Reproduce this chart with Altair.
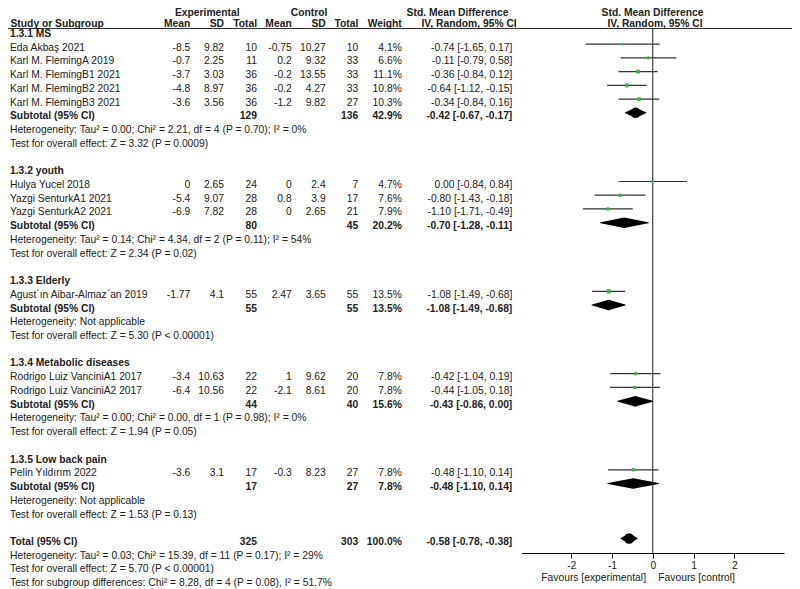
import altair as alt
import pandas as pd

# ---------------- data ----------------
study_names = ["Eda Akbaş 2021", "Karl M. FlemingA 2019", "Karl M. FlemingB1 2021",
               "Karl M. FlemingB2 2021", "Karl M. FlemingB3 2021", "Hulya Yucel 2018",
               "Yazgi SenturkA1 2021", "Yazgi SenturkA2 2021", "Agust´ın Aibar-Almaz´an 2019",
               "Rodrigo Luiz VanciniA1 2017", "Rodrigo Luiz VanciniA2 2017", "Pelin Yıldırım 2022"]
study_group = [0, 0, 0, 0, 0, 1, 1, 1, 2, 3, 3, 4]
exp_mean = [-8.5, -0.7, -3.7, -4.8, -3.6, 0, -5.4, -6.9, -1.77, -3.4, -6.4, -3.6]
exp_sd = [9.82, 2.25, 3.03, 8.97, 3.56, 2.65, 9.07, 7.82, 4.1, 10.63, 10.56, 3.1]
exp_n = [10, 11, 36, 36, 36, 24, 28, 28, 55, 22, 22, 17]
ctl_mean = [-0.75, 0.2, -0.2, -0.2, -1.2, 0, 0.8, 0, 2.47, 1, -2.1, -0.3]
ctl_sd = [10.27, 9.32, 13.55, 4.27, 9.82, 2.4, 3.9, 2.65, 3.65, 9.62, 8.61, 8.23]
ctl_n = [10, 33, 33, 33, 27, 7, 17, 21, 55, 20, 20, 27]
weight = [4.1, 6.6, 11.1, 10.8, 10.3, 4.7, 7.6, 7.9, 13.5, 7.8, 7.8, 7.8]
smd = [-0.74, -0.11, -0.36, -0.64, -0.34, 0.00, -0.80, -1.10, -1.08, -0.42, -0.44, -0.48]
ci_lo = [-1.65, -0.79, -0.84, -1.12, -0.84, -0.84, -1.43, -1.71, -1.49, -1.04, -1.05, -1.10]
ci_hi = [0.17, 0.58, 0.12, -0.15, 0.16, 0.84, -0.18, -0.49, -0.68, 0.19, 0.18, 0.14]

group_titles = ["1.3.1 MS", "1.3.2 youth", "1.3.3 Elderly", "1.3.4 Metabolic diseases", "1.3.5 Low back pain"]
sub_exp_n = [129, 80, 55, 44, 17]
sub_ctl_n = [136, 45, 55, 40, 27]
sub_weight = [42.9, 20.2, 13.5, 15.6, 7.8]
sub_smd = [-0.42, -0.70, -1.08, -0.43, -0.48]
sub_lo = [-0.67, -1.28, -1.49, -0.86, -1.10]
sub_hi = [-0.17, -0.11, -0.68, 0.00, 0.14]
sub_het = ["Heterogeneity: Tau² = 0.00; Chi² = 2.21, df = 4 (P = 0.70); I² = 0%",
           "Heterogeneity: Tau² = 0.14; Chi² = 4.34, df = 2 (P = 0.11); I² = 54%",
           "Heterogeneity: Not applicable",
           "Heterogeneity: Tau² = 0.00; Chi² = 0.00, df = 1 (P = 0.98); I² = 0%",
           "Heterogeneity: Not applicable"]
sub_test = ["Test for overall effect: Z = 3.32 (P = 0.0009)",
            "Test for overall effect: Z = 2.34 (P = 0.02)",
            "Test for overall effect: Z = 5.30 (P < 0.00001)",
            "Test for overall effect: Z = 1.94 (P = 0.05)",
            "Test for overall effect: Z = 1.53 (P = 0.13)"]

total_exp_n = 325
total_ctl_n = 303
total_weight = 100.0
total_smd = -0.58
total_lo = -0.78
total_hi = -0.38
total_notes = ["Heterogeneity: Tau² = 0.03; Chi² = 15.39, df = 11 (P = 0.17); I² = 29%",
               "Test for overall effect: Z = 5.70 (P < 0.00001)",
               "Test for subgroup differences: Chi² = 8.28, df = 4 (P = 0.08), I² = 51.7%"]

axis_ticks = [-2, -1, 0, 1, 2]

# ---------------- layout constants ----------------
FONT = "Liberation Sans"
FS = 10.3
TXT = "#222222"
LINE = "#333333"
GREEN = "#3cb44b"
DIAMOND_PX = 10.5
H = 545
W = 784
TEXT_DY = 3.5

def num(v):
    return f"{v:g}"

def ci_str(e, lo, hi):
    return f"{e:.2f} [{lo:.2f}, {hi:.2f}]"

# ---------------- build table ----------------
cells = []
study_rows = []
diamonds = []

def add(row, col, text, bold=False):
    cells.append({"row": row, "col": col, "text": text, "bold": bold})

def add_diamond(gid, row, est, lo, hi):
    for k, (xv, s) in enumerate(zip([lo, est, hi], [0, 1, 0])):
        diamonds.append({"gid": gid, "row": row, "xv": xv, "peak": s, "ord": k})

row = 2
for g, title in enumerate(group_titles):
    add(row, "name", title, True)
    row += 1
    for i, name in enumerate(study_names):
        if study_group[i] != g:
            continue
        add(row, "name", name)
        add(row, "em", num(exp_mean[i]))
        add(row, "es", num(exp_sd[i]))
        add(row, "en", num(exp_n[i]))
        add(row, "cm", num(ctl_mean[i]))
        add(row, "cs", num(ctl_sd[i]))
        add(row, "cn", num(ctl_n[i]))
        add(row, "w", f"{weight[i]:.1f}%")
        add(row, "ci", ci_str(smd[i], ci_lo[i], ci_hi[i]))
        study_rows.append({"row": row, "smd": smd[i], "lo": ci_lo[i], "hi": ci_hi[i], "weight": weight[i]})
        row += 1
    add(row, "name", "Subtotal (95% CI)", True)
    add(row, "en", num(sub_exp_n[g]), True)
    add(row, "cn", num(sub_ctl_n[g]), True)
    add(row, "w", f"{sub_weight[g]:.1f}%", True)
    add(row, "ci", ci_str(sub_smd[g], sub_lo[g], sub_hi[g]), True)
    add_diamond(g, row, sub_smd[g], sub_lo[g], sub_hi[g])
    row += 1
    add(row, "name", sub_het[g])
    row += 1
    add(row, "name", sub_test[g])
    row += 2

add(row, "name", "Total (95% CI)", True)
add(row, "en", num(total_exp_n), True)
add(row, "cn", num(total_ctl_n), True)
add(row, "w", f"{total_weight:.1f}%", True)
add(row, "ci", ci_str(total_smd, total_lo, total_hi), True)
add_diamond(9, row, total_smd, total_lo, total_hi)
row += 1
for note in total_notes:
    add(row, "name", note)
    row += 1

cells_df = pd.DataFrame(cells)
study_df = pd.DataFrame(study_rows)
diamond_df = pd.DataFrame(diamonds)

columns = [("name", 2.0, "left"), ("em", 182.3, "right"), ("es", 216, "right"), ("en", 249, "right"),
           ("cm", 283.7, "right"), ("cs", 317.7, "right"), ("cn", 350.3, "right"),
           ("w", 393.8, "right"), ("ci", 504.3, "right")]

yscale = alt.Scale(domain=[0.3642, 40.058], reverse=True, nice=False, zero=False)
xscale = alt.Scale(domain=[-3.22, 3.22], range=[513.5, 776], nice=False, zero=False)
base_y = alt.Y("row:Q", scale=yscale, axis=None)

layers = []

one = pd.DataFrame({"a": [0]})
layers.append(alt.Chart(one).mark_rule(color=LINE, strokeWidth=1.1).encode(
    x=alt.value(0), x2=alt.value(W), y=alt.value(20.5)))
layers.append(alt.Chart(one).mark_rule(color=LINE, strokeWidth=1.1).encode(
    x=alt.X("z:Q", scale=xscale, title=None,
            axis=alt.Axis(values=axis_ticks, grid=False, tickSize=5, labelFontSize=FS, labelFont=FONT,
                          labelColor=TXT, domainColor="#000000", tickColor="#000000", labelPadding=2,
                          domainWidth=1, tickWidth=1, labelFlush=False,
                          labelExpr="'' + datum.value")),
    y=alt.value(20.5), y2=alt.value(H)).transform_calculate(z="0"))

for col, xpx, align in columns:
    for bold in (False, True):
        layers.append(alt.Chart(cells_df).transform_filter(
            (alt.datum.col == col) & (alt.datum.bold == bold)
        ).mark_text(align=align, baseline="middle", dy=TEXT_DY, font=FONT, fontSize=FS,
                    fontWeight="bold" if bold else "normal", color=TXT).encode(
            x=alt.value(xpx), y=base_y, text="text:N"))

header1 = [("Experimental", 199.3, "center"), ("Control", 301, "center"),
           ("Std. Mean Difference", 449.5, "center"), ("Std. Mean Difference", 644.5, "center")]
header2 = [("Study or Subgroup", 2.5, "left"), ("Mean", 182.3, "right"), ("SD", 216, "right"),
           ("Total", 249, "right"), ("Mean", 283.7, "right"), ("SD", 317.7, "right"),
           ("Total", 350.3, "right"), ("Weight", 393.8, "right"), ("IV, Random, 95% CI", 508.7, "right"),
           ("IV, Random, 95% CI", 647, "center")]
for txt, xpx, align in header1:
    layers.append(alt.Chart(pd.DataFrame({"t": [txt]})).mark_text(
        align=align, baseline="middle", font=FONT, fontSize=FS, fontWeight="bold", color=TXT).encode(
        x=alt.value(xpx), y=alt.value(4.5), text="t:N"))
for txt, xpx, align in header2:
    layers.append(alt.Chart(pd.DataFrame({"t": [txt]})).mark_text(
        align=align, baseline="middle", font=FONT, fontSize=FS, fontWeight="bold", color=TXT).encode(
        x=alt.value(xpx), y=alt.value(15.5), text="t:N"))

layers.append(alt.Chart(pd.DataFrame({"t": ["Favours [experimental]"]})).mark_text(
    align="right", baseline="middle", font=FONT, fontSize=FS, color=TXT).encode(
    x=alt.value(638), y=alt.value(569.7), text="t:N"))
layers.append(alt.Chart(pd.DataFrame({"t": ["Favours [control]"]})).mark_text(
    align="left", baseline="middle", font=FONT, fontSize=FS, color=TXT).encode(
    x=alt.value(650.3), y=alt.value(569.7), text="t:N"))

# CI lines
layers.append(alt.Chart(study_df).mark_rule(color=LINE, strokeWidth=1.2).encode(
    x=alt.X("lo:Q", scale=xscale), x2="hi:Q", y=base_y))
# squares
layers.append(alt.Chart(study_df).mark_square(color=GREEN, opacity=1, filled=True).encode(
    x=alt.X("smd:Q", scale=xscale), y=base_y,
    size=alt.Size("weight:Q", scale=alt.Scale(domain=[0, 13.5], range=[0, 18]), legend=None)))
# diamonds (trail whose width goes 0 -> full -> 0)
layers.append(alt.Chart(diamond_df).mark_trail(color="#000000", opacity=1).encode(
    x=alt.X("xv:Q", scale=xscale), y=base_y,
    size=alt.Size("peak:Q", scale=alt.Scale(domain=[0, 1], range=[0, DIAMOND_PX]), legend=None),
    detail="gid:N", order="ord:Q"))

chart = alt.layer(*layers).resolve_scale(size="independent").properties(
    width=W, height=H, padding={"left": 0, "top": 0, "right": 0, "bottom": 36},
    autosize=alt.AutoSizeParams(type="none"), background="white"
).configure_view(strokeWidth=0)

chart.save("out.html", embed_options={"renderer": "svg", "actions": False})
